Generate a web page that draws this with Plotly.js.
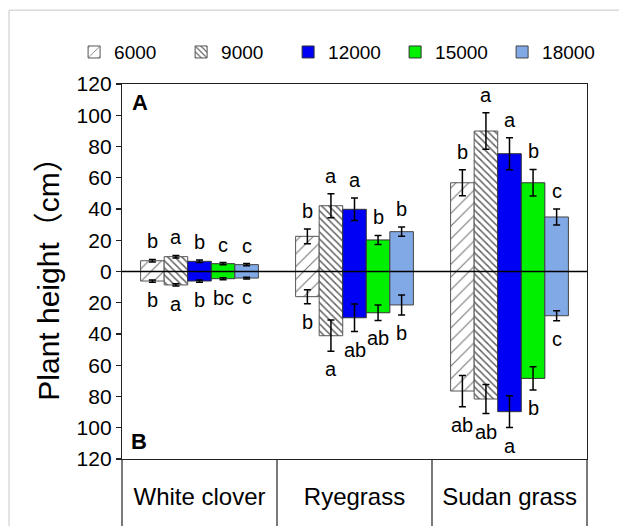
<!DOCTYPE html>
<html>
<head>
<meta charset="utf-8">
<script src="https://cdn.plot.ly/plotly-3.0.1.min.js"></script>
<style>
  html, body { margin: 0; padding: 0; background: #fff; }
  #chart { width: 619px; height: 526px; }
</style>
</head>
<body>
<div id="chart"></div>
<script>
// ---------------- data ----------------
const categories = ['White clover', 'Ryegrass', 'Sudan grass'];
const densities = ['6000', '9000', '12000', '15000', '18000'];

// upper panel (A): mean and error per density, per category
const aboveMean = [
  [6.9, 22.5, 56.8],
  [9.5, 42.1, 89.9],
  [6.5, 39.8, 75.4],
  [5.0, 20.2, 56.8],
  [4.4, 25.5, 34.9]
];
const aboveErr = [
  [0.8, 4.7, 8.3],
  [0.8, 7.7, 11.7],
  [0.8, 7.2, 10.2],
  [0.7, 2.9, 8.5],
  [0.7, 3.0, 5.1]
];
// lower panel (B)
const belowMean = [
  [6.1, 16.1, 76.5],
  [8.6, 41.1, 81.6],
  [6.1, 29.6, 89.7],
  [4.6, 26.4, 68.4],
  [4.2, 21.4, 28.3]
];
const belowErr = [
  [0.7, 4.5, 10.0],
  [0.7, 10.0, 9.3],
  [0.7, 8.8, 10.2],
  [0.6, 4.9, 7.5],
  [0.6, 6.4, 3.2]
];
const aboveLetters = [
  ['b', 'b', 'b'],
  ['a', 'a', 'a'],
  ['b', 'a', 'a'],
  ['c', 'b', 'b'],
  ['c', 'b', 'c']
];
const belowLetters = [
  ['b', 'b', 'ab'],
  ['a', 'a', 'ab'],
  ['b', 'ab', 'a'],
  ['bc', 'ab', 'b'],
  ['c', 'b', 'c']
];
const yTicks = [-120, -100, -80, -60, -40, -20, 0, 20, 40, 60, 80, 100, 120];

// ---------------- styles ----------------
const FONT = 'Liberation Sans, Arial, Helvetica, sans-serif';
const markers = [
  { color: '#ffffff', line: { color: '#555', width: 1 },
    pattern: { shape: '/', fgcolor: '#777', bgcolor: '#ffffff', size: 9, solidity: 0.12 } },
  { color: '#ffffff', line: { color: '#555', width: 1 },
    pattern: { shape: '\\', fgcolor: '#666', bgcolor: '#ffffff', size: 5, solidity: 0.3 } },
  { color: '#0000f5', line: { color: '#333', width: 1 } },
  { color: '#00f000', line: { color: '#333', width: 1 } },
  { color: '#80a9e6', line: { color: '#444', width: 1 } }
];
const BARGAP = 0.24;
const slot = (1 - BARGAP) / densities.length;

// ---------------- traces ----------------
const traces = densities.map((d, i) => ({
  type: 'bar',
  name: d,
  x: categories.concat(categories),
  y: aboveMean[i].concat(belowMean[i].map(v => -v)),
  error_y: {
    type: 'data', array: aboveErr[i].concat(belowErr[i]),
    visible: true, color: '#000', thickness: 1.5, width: 3.5
  },
  marker: markers[i],
  hoverinfo: 'x+y+name'
}));

// ---------------- letters ----------------
const annotations = [];
densities.forEach((d, i) => {
  categories.forEach((c, k) => {
    const xpos = k + (i - (densities.length - 1) / 2) * slot;
    annotations.push({
      x: xpos, y: aboveMean[i][k] + aboveErr[i][k], xref: 'x', yref: 'y',
      text: aboveLetters[i][k], showarrow: false, yanchor: 'middle', yshift: 18,
      font: { family: FONT, size: 20, color: '#000' }
    });
    annotations.push({
      x: xpos, y: -(belowMean[i][k] + belowErr[i][k]), xref: 'x', yref: 'y',
      text: belowLetters[i][k], showarrow: false, yanchor: 'middle', yshift: -18,
      font: { family: FONT, size: 20, color: '#000' }
    });
  });
});
annotations.push({
  xref: 'paper', yref: 'paper', x: 0.039, y: 0.95, text: '<b>A</b>', showarrow: false,
  xanchor: 'center', yanchor: 'middle', font: { family: FONT, size: 22, color: '#000' }
});
annotations.push({
  xref: 'paper', yref: 'paper', x: 0.037, y: 0.046, text: '<b>B</b>', showarrow: false,
  xanchor: 'center', yanchor: 'middle', font: { family: FONT, size: 22, color: '#000' }
});

// ---------------- shapes (frame decorations) ----------------
const shapes = [
  // zero line drawn over the bars
  { type: 'line', xref: 'x', yref: 'y', x0: -0.5, x1: categories.length - 0.5, y0: 0, y1: 0,
    line: { color: '#000', width: 1.6 } },
  // outer light border of the figure
  { type: 'rect', xref: 'paper', yref: 'paper', x0: -0.243, x1: 1.2, y0: -0.5, y1: 1.197,
    line: { color: '#c8c8c8', width: 1 }, fillcolor: 'rgba(0,0,0,0)', layer: 'below' }
];
for (let k = 0; k <= categories.length; k++) {
  shapes.push({
    type: 'line', xref: 'paper', yref: 'paper', x0: k / categories.length, x1: k / categories.length,
    y0: 0, y1: -0.2, line: { color: '#222', width: 1.2 }
  });
}

const layout = {
  width: 619, height: 526,
  margin: { l: 122, r: 32, t: 84, b: 67, pad: 0 },
  paper_bgcolor: '#ffffff', plot_bgcolor: '#ffffff',
  font: { family: FONT, color: '#000' },
  barmode: 'group', bargap: BARGAP, bargroupgap: 0,
  showlegend: true,
  legend: {
    orientation: 'h', x: -0.103, xanchor: 'left', y: 1.085, yanchor: 'middle',
    font: { family: FONT, size: 19, color: '#000' }, traceorder: 'normal',
    bgcolor: 'rgba(0,0,0,0)', itemwidth: 30, entrywidth: 62, entrywidthmode: 'pixels'
  },
  xaxis: {
    type: 'category', range: [-0.5, categories.length - 0.5],
    showline: true, mirror: true, linecolor: '#222', linewidth: 1.2,
    ticks: '', showgrid: false, zeroline: false,
    tickfont: { family: FONT, size: 24, color: '#000' }, ticklabelstandoff: 16
  },
  yaxis: {
    range: [-120, 120], tickmode: 'array', tickvals: yTicks,
    ticktext: yTicks.map(v => String(Math.abs(v))),
    ticks: 'outside', ticklen: 5, tickwidth: 1.2, tickcolor: '#222',
    showline: true, mirror: true, linecolor: '#222', linewidth: 1.2,
    showgrid: false, zeroline: false,
    tickfont: { family: FONT, size: 21, color: '#000' },
    title: { text: 'Plant height（cm）', font: { family: FONT + ', Noto Sans CJK SC', size: 30, color: '#000' }, standoff: 8 }
  },
  annotations: annotations,
  shapes: shapes
};

Plotly.newPlot('chart', traces, layout, { displayModeBar: false, staticPlot: true });
</script>
</body>
</html>
